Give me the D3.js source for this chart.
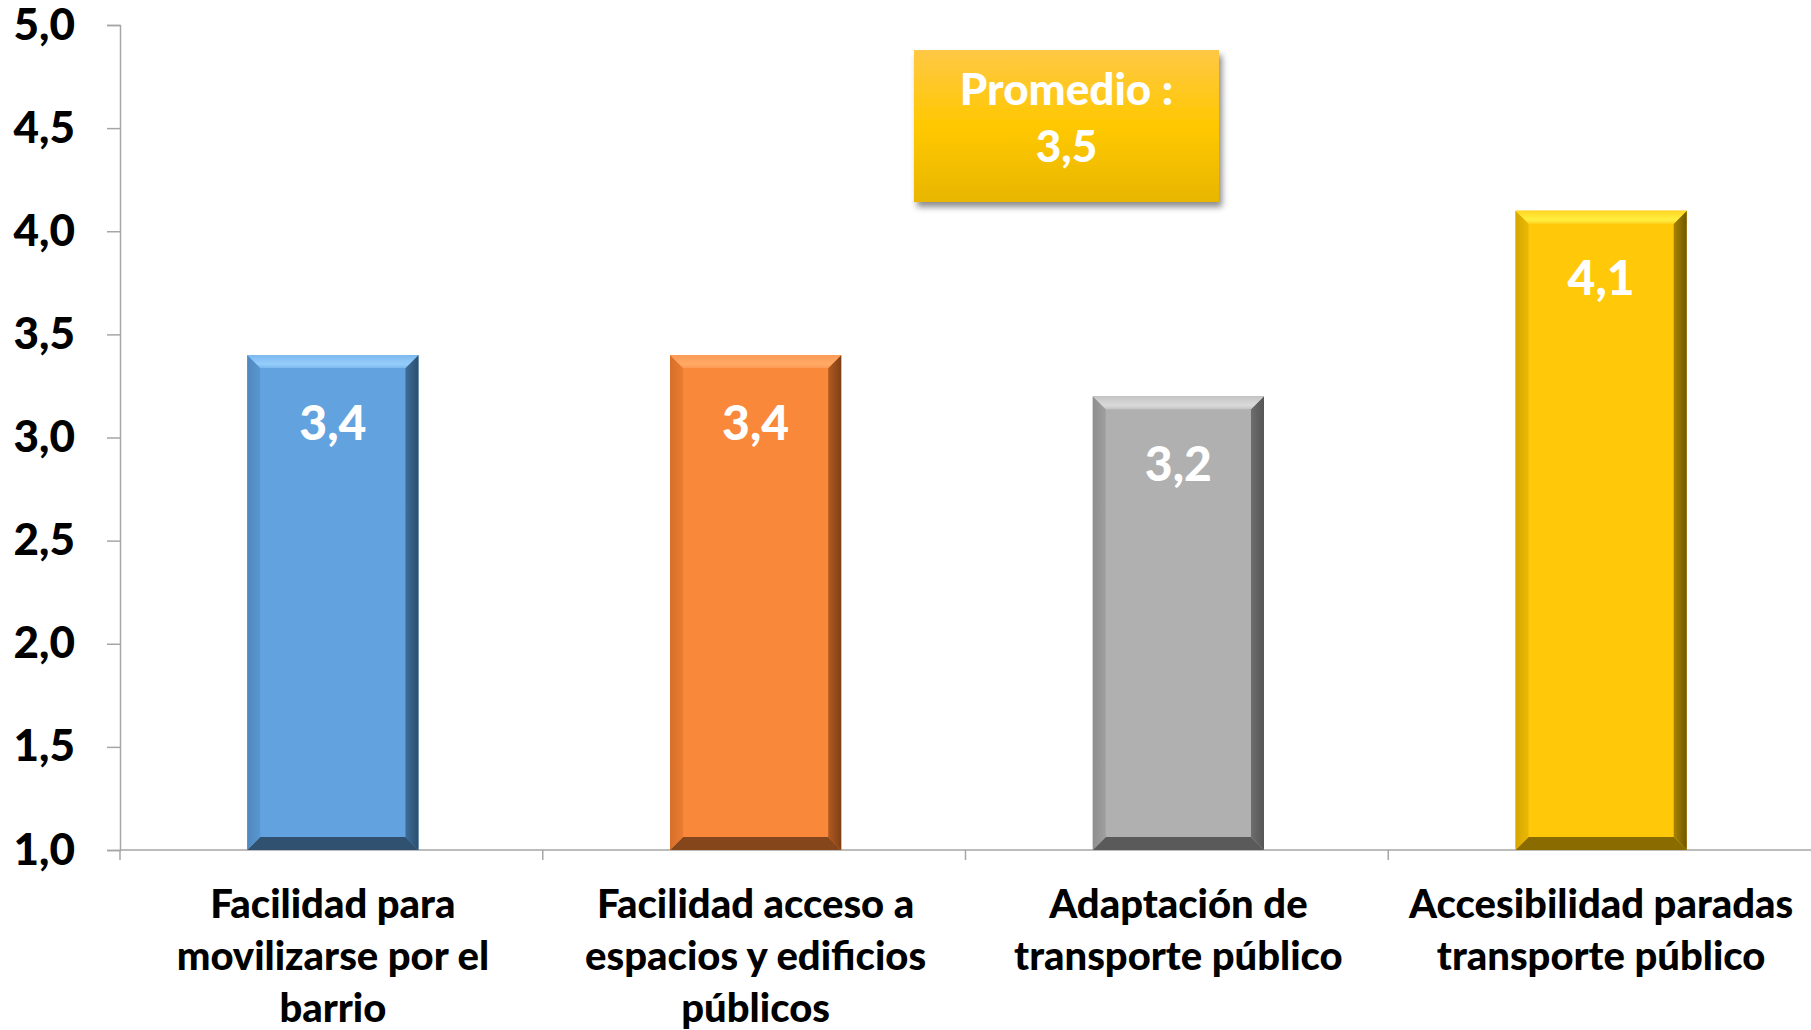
<!DOCTYPE html>
<html><head><meta charset="utf-8">
<script src="https://cdn.jsdelivr.net/npm/d3@7"></script>
<style>
html,body{margin:0;padding:0;background:#fff;}
svg{display:block;font-family:Lato,"Open Sans",sans-serif;font-weight:700;}
</style></head><body>
<svg id="chart" width="1811" height="1030"></svg>
<script>
const categories = [
  "Facilidad para movilizarse por el barrio",
  "Facilidad acceso a espacios y edificios públicos",
  "Adaptación de transporte público",
  "Accesibilidad paradas transporte público"
];
const categoryLines = [
  ["Facilidad para", "movilizarse por el", "barrio"],
  ["Facilidad acceso a", "espacios y edificios", "públicos"],
  ["Adaptación de", "transporte público"],
  ["Accesibilidad paradas", "transporte público"]
];
const values = [3.4, 3.4, 3.2, 4.1];
const yTicks = [1.0, 1.5, 2.0, 2.5, 3.0, 3.5, 4.0, 4.5, 5.0];
const promedio = 3.5;
const promedioLabel = "Promedio :";

const palette = [
  {base:"#62a3df", top1:"#7db9ee", top2:"#95cdfc", left:"#4f88bf", right1:"#3d6d98", right2:"#2c4e6e", bottom:"#30516f"},
  {base:"#fa883b", top1:"#fb9a55", top2:"#ffaa66", left:"#d86f29", right1:"#b25a20", right2:"#7f3f16", bottom:"#86461b"},
  {base:"#b0b0b0", top1:"#c4c4c4", top2:"#dadada", left:"#8e8e8e", right1:"#6e6e6e", right2:"#555555", bottom:"#5a5a5a"},
  {base:"#ffc808", top1:"#ffd523", top2:"#fff040", left:"#d6a700", right1:"#a88300", right2:"#6f5600", bottom:"#8a6b00"}
];

const FW = 900;
const svg = d3.select("#chart").style("font-weight", FW);
const defs = svg.append("defs");
const locale = d3.formatLocale({decimal: ",", thousands: ".", grouping: [3], currency: ["", "€"]});
const fmt = locale.format(".1f");

const y = d3.scaleLinear().domain([1, 5]).range([850, 25]);
const x = d3.scaleBand().domain(categories).range([120, 1811]).paddingInner(0.595).paddingOuter(0.2975);
const axisColor = "#a6a6a6";

// Y axis
const yAxis = d3.axisLeft(y).tickValues(yTicks).tickSize(13).tickPadding(32).tickFormat(fmt);
const gy = svg.append("g").attr("transform", "translate(120,0)").call(yAxis);
gy.select(".domain").attr("stroke", axisColor).attr("stroke-width", 1.5);
gy.selectAll(".tick line").attr("stroke", axisColor).attr("stroke-width", 1.5);
gy.selectAll(".tick text").attr("fill", "#000").attr("font-size", 44).attr("font-family", "Lato, sans-serif").attr("font-weight", FW);

// X axis line + ticks at band boundaries
const step = x.step();
const boundaries = d3.range(categories.length + 1).map(i => 120 + i * step);
svg.append("line").attr("x1", 120).attr("x2", 1811).attr("y1", y(1)).attr("y2", y(1))
  .attr("stroke", axisColor).attr("stroke-width", 1.5);
svg.selectAll(".xtick").data(boundaries.slice(0, categories.length)).join("line")
  .attr("x1", d => d).attr("x2", d => d).attr("y1", y(1)).attr("y2", y(1) + 10)
  .attr("stroke", axisColor).attr("stroke-width", 1.5);

// gradients per bar
palette.forEach((p, i) => {
  const gt = defs.append("linearGradient").attr("id", "top" + i).attr("x1", 0).attr("y1", 0).attr("x2", 0).attr("y2", 1);
  gt.append("stop").attr("offset", "0%").attr("stop-color", p.top1);
  gt.append("stop").attr("offset", "70%").attr("stop-color", p.top2);
  gt.append("stop").attr("offset", "100%").attr("stop-color", p.top1);
  const gr = defs.append("linearGradient").attr("id", "right" + i).attr("x1", 0).attr("y1", 0).attr("x2", 1).attr("y2", 0);
  gr.append("stop").attr("offset", "0%").attr("stop-color", p.right1);
  gr.append("stop").attr("offset", "100%").attr("stop-color", p.right2);
  const gl = defs.append("linearGradient").attr("id", "left" + i).attr("x1", 0).attr("y1", 0).attr("x2", 1).attr("y2", 0);
  gl.append("stop").attr("offset", "0%").attr("stop-color", p.left);
  gl.append("stop").attr("offset", "100%").attr("stop-color", d3.interpolateRgb(p.left, p.base)(0.5));
});

const bev = 13;
const bars = svg.selectAll(".bar").data(values.map((v, i) => ({v, i, c: categories[i]}))).join("g").attr("class", "bar");
bars.each(function(d) {
  const g = d3.select(this);
  const x0 = x(d.c) + 1.5, x1 = x0 + x.bandwidth();
  const y0 = y(d.v), y1 = y(1);
  const p = palette[d.i];
  g.append("rect").attr("x", x0).attr("y", y0).attr("width", x1 - x0).attr("height", y1 - y0).attr("fill", p.base);
  const poly = pts => pts.map(q => q.join(",")).join(" ");
  g.append("polygon").attr("points", poly([[x0,y1],[x0+bev,y1-bev],[x1-bev,y1-bev],[x1,y1]])).attr("fill", p.bottom);
  g.append("polygon").attr("points", poly([[x0,y0],[x0+bev,y0+bev],[x0+bev,y1-bev],[x0,y1]])).attr("fill", `url(#left${d.i})`);
  g.append("polygon").attr("points", poly([[x1,y0],[x1-bev,y0+bev],[x1-bev,y1-bev],[x1,y1]])).attr("fill", `url(#right${d.i})`);
  g.append("polygon").attr("points", poly([[x0,y0],[x1,y0],[x1-bev,y0+bev],[x0+bev,y0+bev]])).attr("fill", `url(#top${d.i})`);
  g.append("text").attr("x", (x0 + x1) / 2).attr("y", y0 + 68).attr("dy", "0.35em")
    .attr("text-anchor", "middle").attr("fill", "#fff").attr("font-size", 48).text(fmt(d.v));
});

// category labels
categoryLines.forEach((lines, i) => {
  const cx = x(categories[i]) + x.bandwidth() / 2 + 1.5;
  const t = svg.append("text").attr("text-anchor", "middle").attr("fill", "#000").attr("font-size", 40);
  lines.forEach((ln, j) => {
    t.append("tspan").attr("x", cx).attr("y", 904 + j * 52).attr("dy", "0.35em").text(ln);
  });
});

// Promedio box
const gbox = defs.append("linearGradient").attr("id", "boxg").attr("x1", 0).attr("y1", 0).attr("x2", 0).attr("y2", 1);
gbox.append("stop").attr("offset", "0%").attr("stop-color", "#ffc845");
gbox.append("stop").attr("offset", "50%").attr("stop-color", "#ffc800");
gbox.append("stop").attr("offset", "100%").attr("stop-color", "#e8b600");
const flt = defs.append("filter").attr("id", "shadow").attr("x", "-10%").attr("y", "-10%").attr("width", "130%").attr("height", "140%");
flt.append("feDropShadow").attr("dx", 3).attr("dy", 5).attr("stdDeviation", 3).attr("flood-color", "#000").attr("flood-opacity", 0.45);
const bx0 = 914, bx1 = 1219, by0 = 50, by1 = 202;
svg.append("rect").attr("x", bx0).attr("y", by0).attr("width", bx1 - bx0).attr("height", by1 - by0)
  .attr("fill", "url(#boxg)").attr("filter", "url(#shadow)");
svg.append("text").attr("x", (bx0 + bx1) / 2).attr("y", 90).attr("dy", "0.35em").attr("text-anchor", "middle")
  .attr("fill", "#fff").attr("font-size", 44).text(promedioLabel);
svg.append("text").attr("x", (bx0 + bx1) / 2).attr("y", 147).attr("dy", "0.35em").attr("text-anchor", "middle")
  .attr("fill", "#fff").attr("font-size", 44).text(fmt(promedio));
</script>
</body></html>
